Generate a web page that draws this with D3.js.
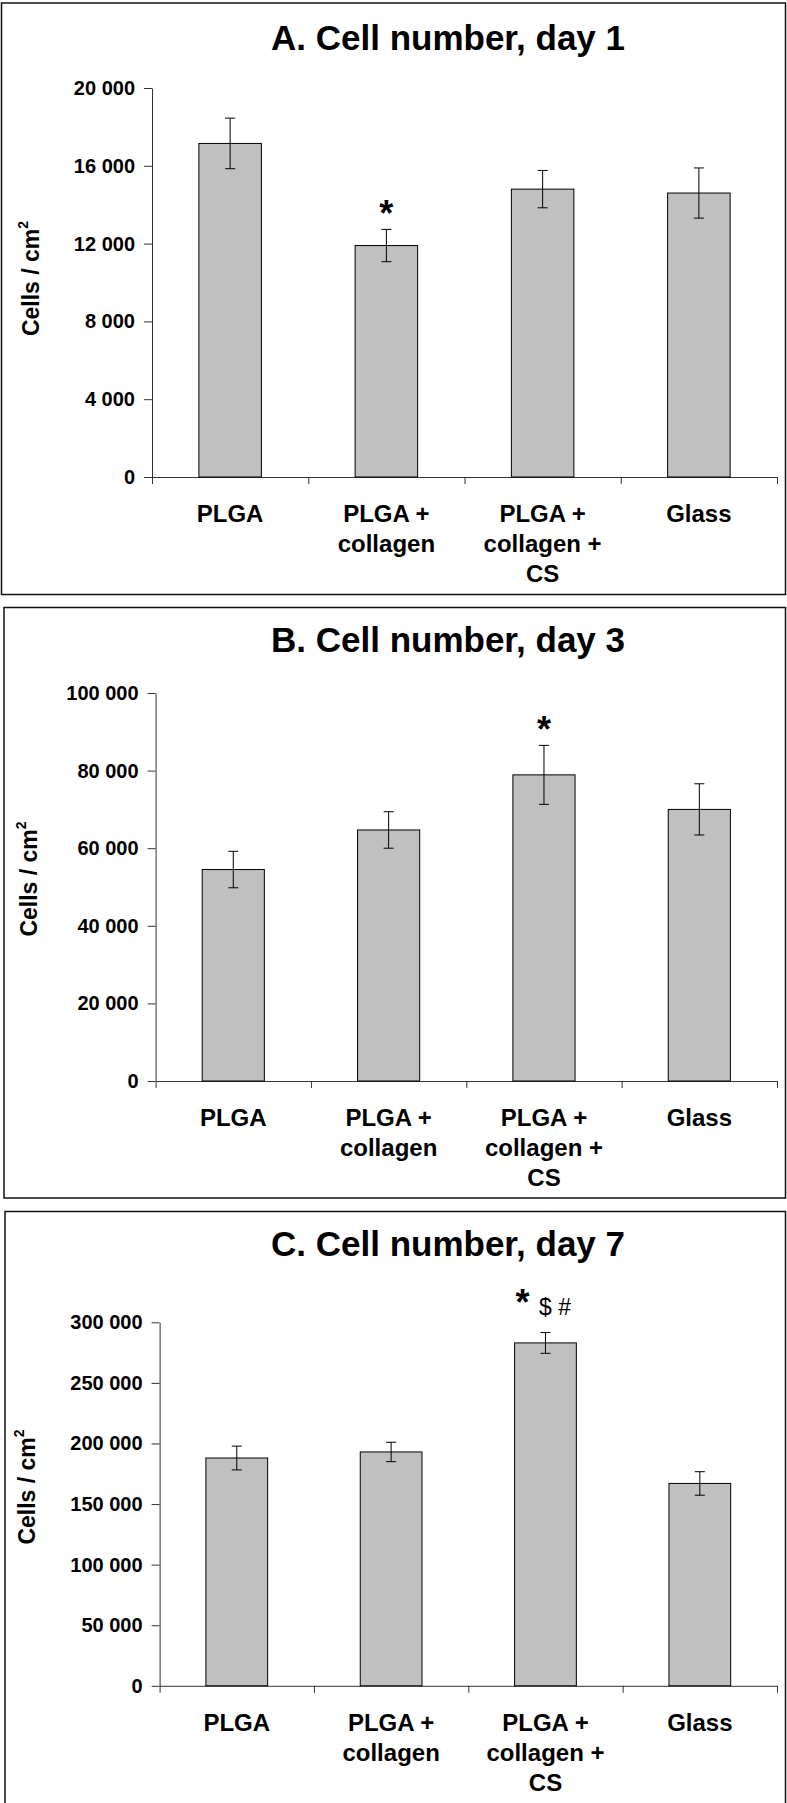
<!DOCTYPE html>
<html>
<head>
<meta charset="UTF-8">
<title>Cell number</title>
<script src="https://cdn.jsdelivr.net/npm/d3@7"></script>
<style>
  body { margin: 0; background: #fff; }
  svg { display: block; font-family: "Liberation Sans", Arial, sans-serif; }
</style>
</head>
<body>
<svg id="chart" width="787" height="1803"></svg>
<script>
// bar categories, split in lines the way the labels wrap
var categories = ["PLGA", "PLGA + collagen", "PLGA + collagen + CS", "Glass"];
var categoryLines = [["PLGA"], ["PLGA +", "collagen"], ["PLGA +", "collagen +", "CS"], ["Glass"]];

var titles = ["A. Cell number, day 1", "B. Cell number, day 3", "C. Cell number, day 7"];

// day 1
var day1Values = [17150, 11900, 14800, 14600];
var day1Errors = [1300, 830, 960, 1290];
var day1Ticks = [0, 4000, 8000, 12000, 16000, 20000];
var day1Marks = ["", "*", "", ""];

// day 3
var day3Values = [54500, 64700, 78900, 70000];
var day3Errors = [4700, 4700, 7600, 6600];
var day3Ticks = [0, 20000, 40000, 60000, 80000, 100000];
var day3Marks = ["", "", "*", ""];

// day 7
var day7Values = [188000, 193000, 283000, 167000];
var day7Errors = [9800, 8000, 8600, 9700];
var day7Ticks = [0, 50000, 100000, 150000, 200000, 250000, 300000];
var day7Marks = ["", "", "*", ""];
var day7Extra = ["", "", "$ #", ""];

// layout of the three stacked panels (pixels)
var right = 777;
var panels = [
  {title: titles[0], values: day1Values, errors: day1Errors, ticks: day1Ticks, marks: day1Marks, extra: null,
   box: [1.5, 3, 785.5, 594.5], titleY: 50, left: 152, top: 88, bottom: 477,
   labelX: 39, labelY: 278.5, markGap: 3, markDx: 0},
  {title: titles[1], values: day3Values, errors: day3Errors, ticks: day3Ticks, marks: day3Marks, extra: null,
   box: [4, 607.5, 785.5, 1198], titleY: 652, left: 155.6, top: 693, bottom: 1081,
   labelX: 37, labelY: 879, markGap: 3, markDx: 0},
  {title: titles[2], values: day7Values, errors: day7Errors, ticks: day7Ticks, marks: day7Marks, extra: day7Extra,
   box: [5, 1211.5, 785.5, 1815], titleY: 1256, left: 159.6, top: 1322.3, bottom: 1685.8,
   labelX: 35, labelY: 1487, markGap: 17, markDx: -23}
];

var fmt = d3.formatLocale({decimal: ".", thousands: " ", grouping: [3], currency: ["", ""]}).format(",");

var svg = d3.select("#chart");
svg.append("rect").attr("width", 787).attr("height", 1803).attr("fill", "#fff");

panels.forEach(function(p) {
  var g = svg.append("g");

  // frame
  g.append("rect")
    .attr("x", p.box[0]).attr("y", p.box[1])
    .attr("width", p.box[2] - p.box[0]).attr("height", p.box[3] - p.box[1])
    .attr("fill", "none").attr("stroke", "#111").attr("stroke-width", 1.5);

  g.append("text")
    .attr("x", 448).attr("y", p.titleY)
    .attr("text-anchor", "middle")
    .style("font-size", "35px").style("font-weight", "bold")
    .text(p.title);

  var x = d3.scaleBand().domain(categories).range([p.left, right]).padding(0);
  var edges = d3.scaleLinear().domain([0, categories.length]).range([p.left, right]);
  var y = d3.scaleLinear().domain([0, d3.max(p.ticks)]).range([p.bottom, p.top]);
  var bw = x.bandwidth() * 0.4; // excel gap width 150%

  // x axis: ticks on the category edges
  var xa = g.append("g")
    .attr("transform", "translate(0," + p.bottom + ")")
    .call(d3.axisBottom(edges).tickValues(d3.range(categories.length + 1))
      .tickSize(7).tickSizeOuter(0).tickFormat(""));
  xa.selectAll("path, line").attr("stroke", "#333");

  // y axis
  var ya = g.append("g")
    .attr("transform", "translate(" + p.left + ",0)")
    .call(d3.axisLeft(y).tickValues(p.ticks).tickSize(8).tickPadding(9)
      .tickSizeOuter(0).tickFormat(fmt));
  ya.selectAll("path, line").attr("stroke", "#333");
  ya.selectAll("text")
    .style("font-size", "20px").style("font-weight", "bold")
    .style("font-family", "Liberation Sans, Arial, sans-serif")
    .attr("fill", "#000");

  // bars
  g.selectAll(".bar").data(p.values).enter().append("rect")
    .attr("x", function(d, i) { return x(categories[i]) + (x.bandwidth() - bw) / 2; })
    .attr("y", function(d) { return y(d); })
    .attr("width", bw)
    .attr("height", function(d) { return y(0) - y(d); })
    .attr("fill", "#c0c0c0").attr("stroke", "#000").attr("stroke-width", 1);

  // error bars
  var cx = function(i) { return x(categories[i]) + x.bandwidth() / 2; };
  var eb = g.selectAll(".err").data(p.values).enter().append("g");
  eb.append("line")
    .attr("x1", function(d, i) { return cx(i); }).attr("x2", function(d, i) { return cx(i); })
    .attr("y1", function(d, i) { return y(d + p.errors[i]); })
    .attr("y2", function(d, i) { return y(d - p.errors[i]); });
  eb.append("line")
    .attr("x1", function(d, i) { return cx(i) - 5; }).attr("x2", function(d, i) { return cx(i) + 5; })
    .attr("y1", function(d, i) { return y(d + p.errors[i]); })
    .attr("y2", function(d, i) { return y(d + p.errors[i]); });
  eb.append("line")
    .attr("x1", function(d, i) { return cx(i) - 5; }).attr("x2", function(d, i) { return cx(i) + 5; })
    .attr("y1", function(d, i) { return y(d - p.errors[i]); })
    .attr("y2", function(d, i) { return y(d - p.errors[i]); });
  eb.selectAll("line").attr("stroke", "#000").attr("stroke-width", 1);

  // significance marks
  p.marks.forEach(function(m, i) {
    if (!m) return;
    var ty = y(p.values[i] + p.errors[i]) - p.markGap;
    g.append("text")
      .attr("x", cx(i) + p.markDx).attr("y", ty)
      .attr("text-anchor", "middle")
      .style("font-size", "36px").style("font-weight", "bold")
      .text(m);
    if (p.extra && p.extra[i]) {
      g.append("text")
        .attr("x", cx(i) - 6.5).attr("y", ty)
        .style("font-size", "23px")
        .text(p.extra[i]);
    }
  });

  // category labels
  categoryLines.forEach(function(lines, i) {
    var t = g.append("text")
      .attr("text-anchor", "middle")
      .style("font-size", "24px").style("font-weight", "bold");
    lines.forEach(function(s, k) {
      t.append("tspan").attr("x", cx(i)).attr("y", p.bottom + 45 + k * 30).text(s);
    });
  });

  // y label with superscript
  var yl = g.append("text")
    .attr("transform", "translate(" + p.labelX + "," + p.labelY + ") rotate(-90)")
    .attr("text-anchor", "middle")
    .style("font-size", "23px").style("font-weight", "bold");
  yl.append("tspan").text("Cells / cm");
  yl.append("tspan").attr("dy", -11).style("font-size", "14px").text("2");
});
</script>
</body>
</html>
